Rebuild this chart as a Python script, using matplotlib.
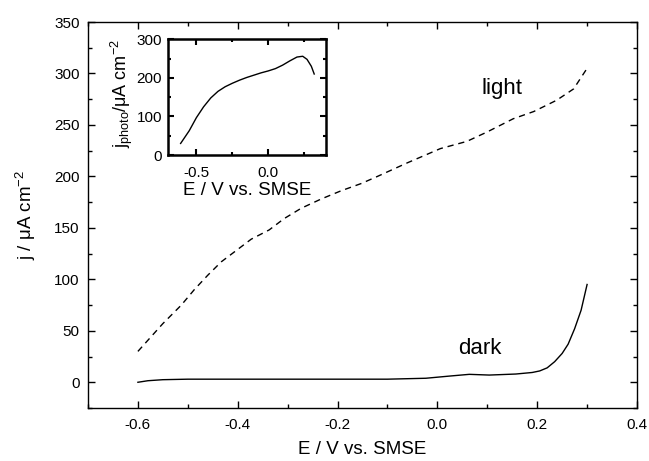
import matplotlib
matplotlib.use("Agg")
import matplotlib.pyplot as plt
import numpy as np
from matplotlib.ticker import MultipleLocator

plt.rcParams['font.family'] = ['Liberation Sans', 'DejaVu Sans']
plt.rcParams['mathtext.fontset'] = 'custom'
plt.rcParams['mathtext.rm'] = 'Liberation Sans'
plt.rcParams['mathtext.it'] = 'Liberation Sans'

# Light (dashed) curve
light_E = [-0.60, -0.55, -0.513, -0.487, -0.46, -0.433, -0.403, -0.373, -0.337, -0.307,
           -0.273, -0.233, -0.193, -0.153, -0.12, -0.061, 0.006, 0.059, 0.099, 0.152,
           0.193, 0.239, 0.273, 0.30]
light_j = [30, 57, 75, 90, 104, 117, 128, 139, 148, 159,
           169, 178, 186, 193, 200, 213, 227, 234, 243, 256,
           263, 274, 285, 305]

# Dark (solid) curve
dark_E = [-0.60, -0.58, -0.55, -0.50, -0.40, -0.30, -0.20, -0.10, -0.023, 0.024, 0.064,
          0.104, 0.157, 0.19, 0.205, 0.22, 0.235, 0.25, 0.262, 0.275, 0.288, 0.30]
dark_j = [0, 1.5, 2.5, 3, 3, 3, 3, 3, 3.9, 6, 7.7,
          7, 8, 9.5, 11, 14, 20, 28, 37, 52, 70, 95]

# Inset: photocurrent
photo_E = [-0.61, -0.55, -0.50, -0.45, -0.40, -0.35, -0.30, -0.25, -0.20, -0.15, -0.10,
           -0.05, 0.0, 0.05, 0.10, 0.15, 0.20, 0.24, 0.27, 0.30, 0.32]
photo_j = [30, 63, 97, 125, 148, 165, 177, 186, 194, 201, 207,
           213, 218, 224, 233, 244, 254, 256, 248, 230, 210]

fig = plt.figure(figsize=(6.49, 4.61), dpi=100)
ax = fig.add_axes([88/649, 1-408/461, (637-88)/649, (408-22)/461])

ax.plot(light_E, light_j, color='black', lw=1.0, linestyle=(0, (4.5, 3.5)))
ax.plot(dark_E, dark_j, color='black', lw=1.0)

ax.set_xlim(-0.7, 0.4)
ax.set_ylim(-25, 350)
ax.set_xticks([-0.6, -0.4, -0.2, 0.0, 0.2, 0.4])
ax.set_xticklabels(['-0.6', '-0.4', '-0.2', '0.0', '0.2', '0.4'])
ax.xaxis.set_minor_locator(MultipleLocator(0.1))
ax.yaxis.set_major_locator(MultipleLocator(50))
ax.yaxis.set_minor_locator(MultipleLocator(25))
ax.tick_params(which='both', direction='in', top=True, right=True, labelsize=11)
ax.tick_params(which='major', length=5, width=1, pad=6)
ax.tick_params(axis='x', which='major', pad=7)
ax.tick_params(which='minor', length=3, width=1)
for s in ax.spines.values():
    s.set_linewidth(1.0)

ax.set_xlabel('E / V vs. SMSE', fontsize=13.5, labelpad=7)
ax.set_ylabel(r'j / $\mu$A cm$^{-2}$', fontsize=13.5, labelpad=12)

ax.text(0.13, 285, 'light', fontsize=16, ha='center', va='center')
ax.text(0.085, 33, 'dark', fontsize=16, ha='center', va='center')

# Inset
axin = fig.add_axes([167.7/649, 1-155/461, 158/649, 115.7/461])
axin.plot(photo_E, photo_j, color='black', lw=1.0)
axin.set_xlim(-0.7, 0.4)
axin.set_ylim(0, 300)
axin.set_xticks([-0.5, 0.0])
axin.set_xticklabels(['-0.5', '0.0'])
axin.xaxis.set_minor_locator(MultipleLocator(0.25))
axin.set_yticks([0, 100, 200, 300])
axin.yaxis.set_minor_locator(MultipleLocator(50))
axin.tick_params(which='both', direction='in', top=True, right=True, labelsize=11)
axin.tick_params(which='major', length=4, width=1.5)
axin.tick_params(axis='x', which='major', pad=8)
axin.tick_params(axis='y', which='major', pad=4)
axin.tick_params(which='minor', length=2.5, width=1.5)
for s in axin.spines.values():
    s.set_linewidth(1.8)
axin.set_xlabel('E / V vs. SMSE', fontsize=13.5, labelpad=1)
axin.set_ylabel(r'j$_{photo}$/$\mu$A cm$^{-2}$', fontsize=13)
axin.yaxis.set_label_coords(-0.205, 0.53)

fig.savefig('out.png', dpi=100)
